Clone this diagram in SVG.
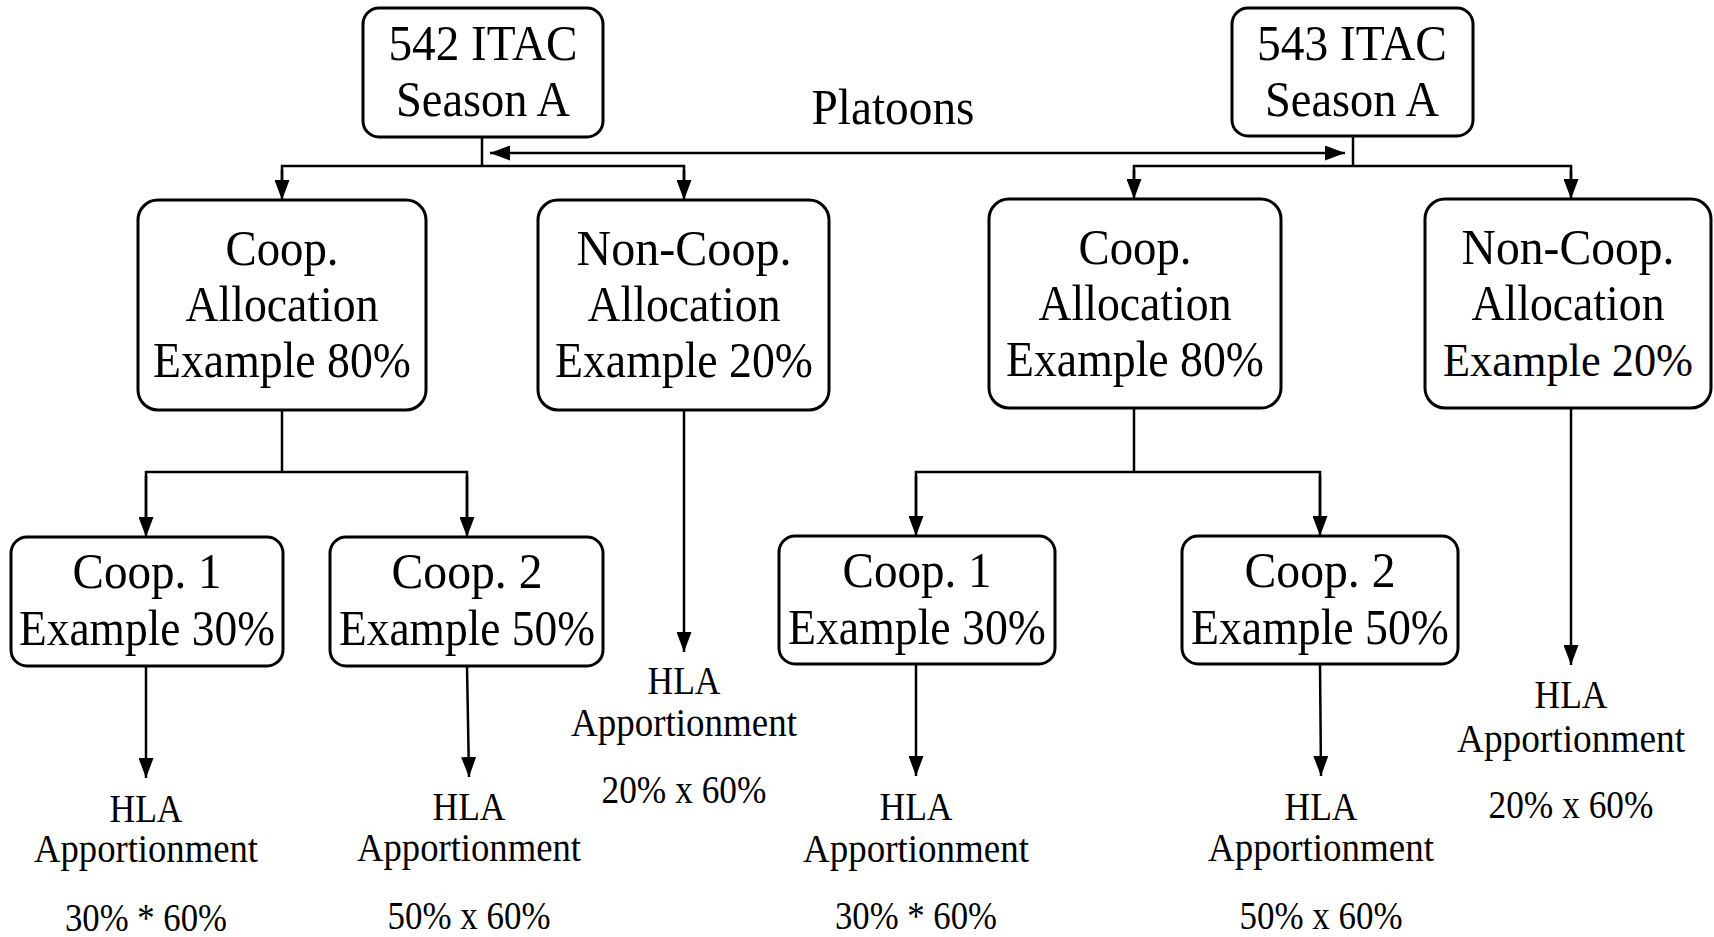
<svg xmlns="http://www.w3.org/2000/svg" width="1714" height="937" viewBox="0 0 1714 937">
  <style>
    .box { fill: #ffffff; stroke: #000000; stroke-width: 3; }
    .line { fill: none; stroke: #000000; stroke-width: 2.5; }
    .t { font-family: "Liberation Serif", "Times New Roman", serif; fill: #000000; text-anchor: middle; }
    .big { font-size: 51px; }
    .small { font-size: 39px; }
  </style>
  <defs>
    <marker id="arrow" viewBox="0 0 20 15" refX="20" refY="7.5" markerWidth="20" markerHeight="15" markerUnits="userSpaceOnUse" orient="auto">
      <path d="M0,0 L20,7.5 L0,15 Z" fill="#000000"/>
    </marker>
  </defs>

  <rect width="1714" height="937" fill="#ffffff"/>

  <!-- connectors -->
  <g id="connectors">
    <!-- platoon link between the two ITACs -->
    <line class="line" x1="1353" y1="137" x2="1353" y2="166"/>
    <line class="line" x1="482" y1="137" x2="482" y2="166"/>
    <line class="line" x1="600" y1="153" x2="490" y2="153" marker-end="url(#arrow)"/>
    <line class="line" x1="600" y1="153" x2="1345" y2="153" marker-end="url(#arrow)"/>

    <!-- 542 ITAC split -->
    <polyline class="line" points="282,190 282,166 684,166 684,190"/>
    <line class="line" x1="282" y1="170" x2="282" y2="200" marker-end="url(#arrow)"/>
    <line class="line" x1="684" y1="170" x2="684" y2="200" marker-end="url(#arrow)"/>

    <!-- 543 ITAC split -->
    <polyline class="line" points="1134,190 1134,166 1571,166 1571,190"/>
    <line class="line" x1="1134" y1="170" x2="1134" y2="199" marker-end="url(#arrow)"/>
    <line class="line" x1="1571" y1="170" x2="1571" y2="199" marker-end="url(#arrow)"/>

    <!-- 542 coop split -->
    <polyline class="line" points="282,410 282,472"/>
    <polyline class="line" points="146,520 146,472 467,472 467,520"/>
    <line class="line" x1="146" y1="476" x2="146" y2="537" marker-end="url(#arrow)"/>
    <line class="line" x1="467" y1="476" x2="467" y2="537" marker-end="url(#arrow)"/>

    <!-- 543 coop split -->
    <polyline class="line" points="1134,408 1134,472"/>
    <polyline class="line" points="916,520 916,472 1320,472 1320,520"/>
    <line class="line" x1="916" y1="476" x2="916" y2="536" marker-end="url(#arrow)"/>
    <line class="line" x1="1320" y1="476" x2="1320" y2="536" marker-end="url(#arrow)"/>

    <!-- apportionment arrows -->
    <line class="line" x1="146" y1="666" x2="146" y2="778" marker-end="url(#arrow)"/>
    <line class="line" x1="467" y1="666" x2="469" y2="777" marker-end="url(#arrow)"/>
    <line class="line" x1="684" y1="410" x2="684" y2="652" marker-end="url(#arrow)"/>
    <line class="line" x1="916" y1="664" x2="916" y2="776" marker-end="url(#arrow)"/>
    <line class="line" x1="1320" y1="664" x2="1321" y2="776" marker-end="url(#arrow)"/>
    <line class="line" x1="1571" y1="408" x2="1571" y2="665" marker-end="url(#arrow)"/>
  </g>

  <!-- top level -->
  <g id="itac542">
    <rect class="box" x="363" y="8" width="240" height="129" rx="16"/>
    <text class="t big" x="483" y="60" textLength="189" lengthAdjust="spacingAndGlyphs">542 ITAC</text>
    <text class="t big" x="483" y="116" textLength="174" lengthAdjust="spacingAndGlyphs">Season A</text>
  </g>
  <g id="itac543">
    <rect class="box" x="1232" y="8" width="241" height="128" rx="16"/>
    <text class="t big" x="1352" y="60" textLength="190" lengthAdjust="spacingAndGlyphs">543 ITAC</text>
    <text class="t big" x="1352" y="116" textLength="174" lengthAdjust="spacingAndGlyphs">Season A</text>
  </g>
  <g id="platoons">
    <text class="t big" x="893" y="124" textLength="163" lengthAdjust="spacingAndGlyphs">Platoons</text>
  </g>

  <!-- allocations -->
  <g id="coop542">
    <rect class="box" x="138" y="200" width="288" height="210" rx="20"/>
    <text class="t big" x="282" y="265" textLength="113" lengthAdjust="spacingAndGlyphs">Coop.</text>
    <text class="t big" x="282" y="321" textLength="193" lengthAdjust="spacingAndGlyphs">Allocation</text>
    <text class="t big" x="282" y="377" textLength="258" lengthAdjust="spacingAndGlyphs">Example 80%</text>
  </g>
  <g id="noncoop542">
    <rect class="box" x="538" y="200" width="291" height="210" rx="20"/>
    <text class="t big" x="684" y="265" textLength="215" lengthAdjust="spacingAndGlyphs">Non-Coop.</text>
    <text class="t big" x="684" y="321" textLength="193" lengthAdjust="spacingAndGlyphs">Allocation</text>
    <text class="t big" x="684" y="377" textLength="258" lengthAdjust="spacingAndGlyphs">Example 20%</text>
  </g>
  <g id="coop543">
    <rect class="box" x="989" y="199" width="292" height="209" rx="20"/>
    <text class="t big" x="1135" y="264" textLength="113" lengthAdjust="spacingAndGlyphs">Coop.</text>
    <text class="t big" x="1135" y="320" textLength="193" lengthAdjust="spacingAndGlyphs">Allocation</text>
    <text class="t big" x="1135" y="376" textLength="258" lengthAdjust="spacingAndGlyphs">Example 80%</text>
  </g>
  <g id="noncoop543">
    <rect class="box" x="1425" y="199" width="286" height="209" rx="20"/>
    <text class="t big" x="1568" y="264" textLength="213" lengthAdjust="spacingAndGlyphs">Non-Coop.</text>
    <text class="t big" x="1568" y="320" textLength="193" lengthAdjust="spacingAndGlyphs">Allocation</text>
    <text class="t" x="1568" y="376" font-size="46" textLength="250" lengthAdjust="spacingAndGlyphs">Example 20%</text>
  </g>

  <!-- cooperatives -->
  <g id="coop1-542">
    <rect class="box" x="11" y="537" width="272" height="129" rx="16"/>
    <text class="t big" x="147" y="588" textLength="149" lengthAdjust="spacingAndGlyphs">Coop. 1</text>
    <text class="t big" x="147" y="645" textLength="256" lengthAdjust="spacingAndGlyphs">Example 30%</text>
  </g>
  <g id="coop2-542">
    <rect class="box" x="330" y="537" width="273" height="129" rx="16"/>
    <text class="t big" x="467" y="588" textLength="151" lengthAdjust="spacingAndGlyphs">Coop. 2</text>
    <text class="t big" x="467" y="645" textLength="256" lengthAdjust="spacingAndGlyphs">Example 50%</text>
  </g>
  <g id="coop1-543">
    <rect class="box" x="779" y="536" width="276" height="128" rx="16"/>
    <text class="t big" x="917" y="587" textLength="149" lengthAdjust="spacingAndGlyphs">Coop. 1</text>
    <text class="t big" x="917" y="644" textLength="258" lengthAdjust="spacingAndGlyphs">Example 30%</text>
  </g>
  <g id="coop2-543">
    <rect class="box" x="1182" y="536" width="276" height="128" rx="16"/>
    <text class="t big" x="1320" y="587" textLength="151" lengthAdjust="spacingAndGlyphs">Coop. 2</text>
    <text class="t big" x="1320" y="644" textLength="258" lengthAdjust="spacingAndGlyphs">Example 50%</text>
  </g>

  <!-- HLA apportionment results -->
  <g id="hla-coop1-542">
    <text class="t small" x="146" y="822" textLength="73" lengthAdjust="spacingAndGlyphs">HLA</text>
    <text class="t small" x="146" y="862" textLength="224" lengthAdjust="spacingAndGlyphs">Apportionment</text>
    <text class="t small" x="146" y="931" textLength="162" lengthAdjust="spacingAndGlyphs">30% * 60%</text>
  </g>
  <g id="hla-coop2-542">
    <text class="t small" x="469" y="820" textLength="73" lengthAdjust="spacingAndGlyphs">HLA</text>
    <text class="t small" x="469" y="861" textLength="224" lengthAdjust="spacingAndGlyphs">Apportionment</text>
    <text class="t small" x="469" y="929" textLength="163" lengthAdjust="spacingAndGlyphs">50% x 60%</text>
  </g>
  <g id="hla-noncoop542">
    <text class="t small" x="684" y="694" textLength="73" lengthAdjust="spacingAndGlyphs">HLA</text>
    <text class="t small" x="684" y="736" textLength="226" lengthAdjust="spacingAndGlyphs">Apportionment</text>
    <text class="t small" x="684" y="803" textLength="165" lengthAdjust="spacingAndGlyphs">20% x 60%</text>
  </g>
  <g id="hla-coop1-543">
    <text class="t small" x="916" y="820" textLength="73" lengthAdjust="spacingAndGlyphs">HLA</text>
    <text class="t small" x="916" y="862" textLength="226" lengthAdjust="spacingAndGlyphs">Apportionment</text>
    <text class="t small" x="916" y="929" textLength="162" lengthAdjust="spacingAndGlyphs">30% * 60%</text>
  </g>
  <g id="hla-coop2-543">
    <text class="t small" x="1321" y="820" textLength="73" lengthAdjust="spacingAndGlyphs">HLA</text>
    <text class="t small" x="1321" y="861" textLength="226" lengthAdjust="spacingAndGlyphs">Apportionment</text>
    <text class="t small" x="1321" y="929" textLength="163" lengthAdjust="spacingAndGlyphs">50% x 60%</text>
  </g>
  <g id="hla-noncoop543">
    <text class="t small" x="1571" y="708" textLength="73" lengthAdjust="spacingAndGlyphs">HLA</text>
    <text class="t small" x="1571" y="752" textLength="228" lengthAdjust="spacingAndGlyphs">Apportionment</text>
    <text class="t small" x="1571" y="818" textLength="165" lengthAdjust="spacingAndGlyphs">20% x 60%</text>
  </g>
</svg>
